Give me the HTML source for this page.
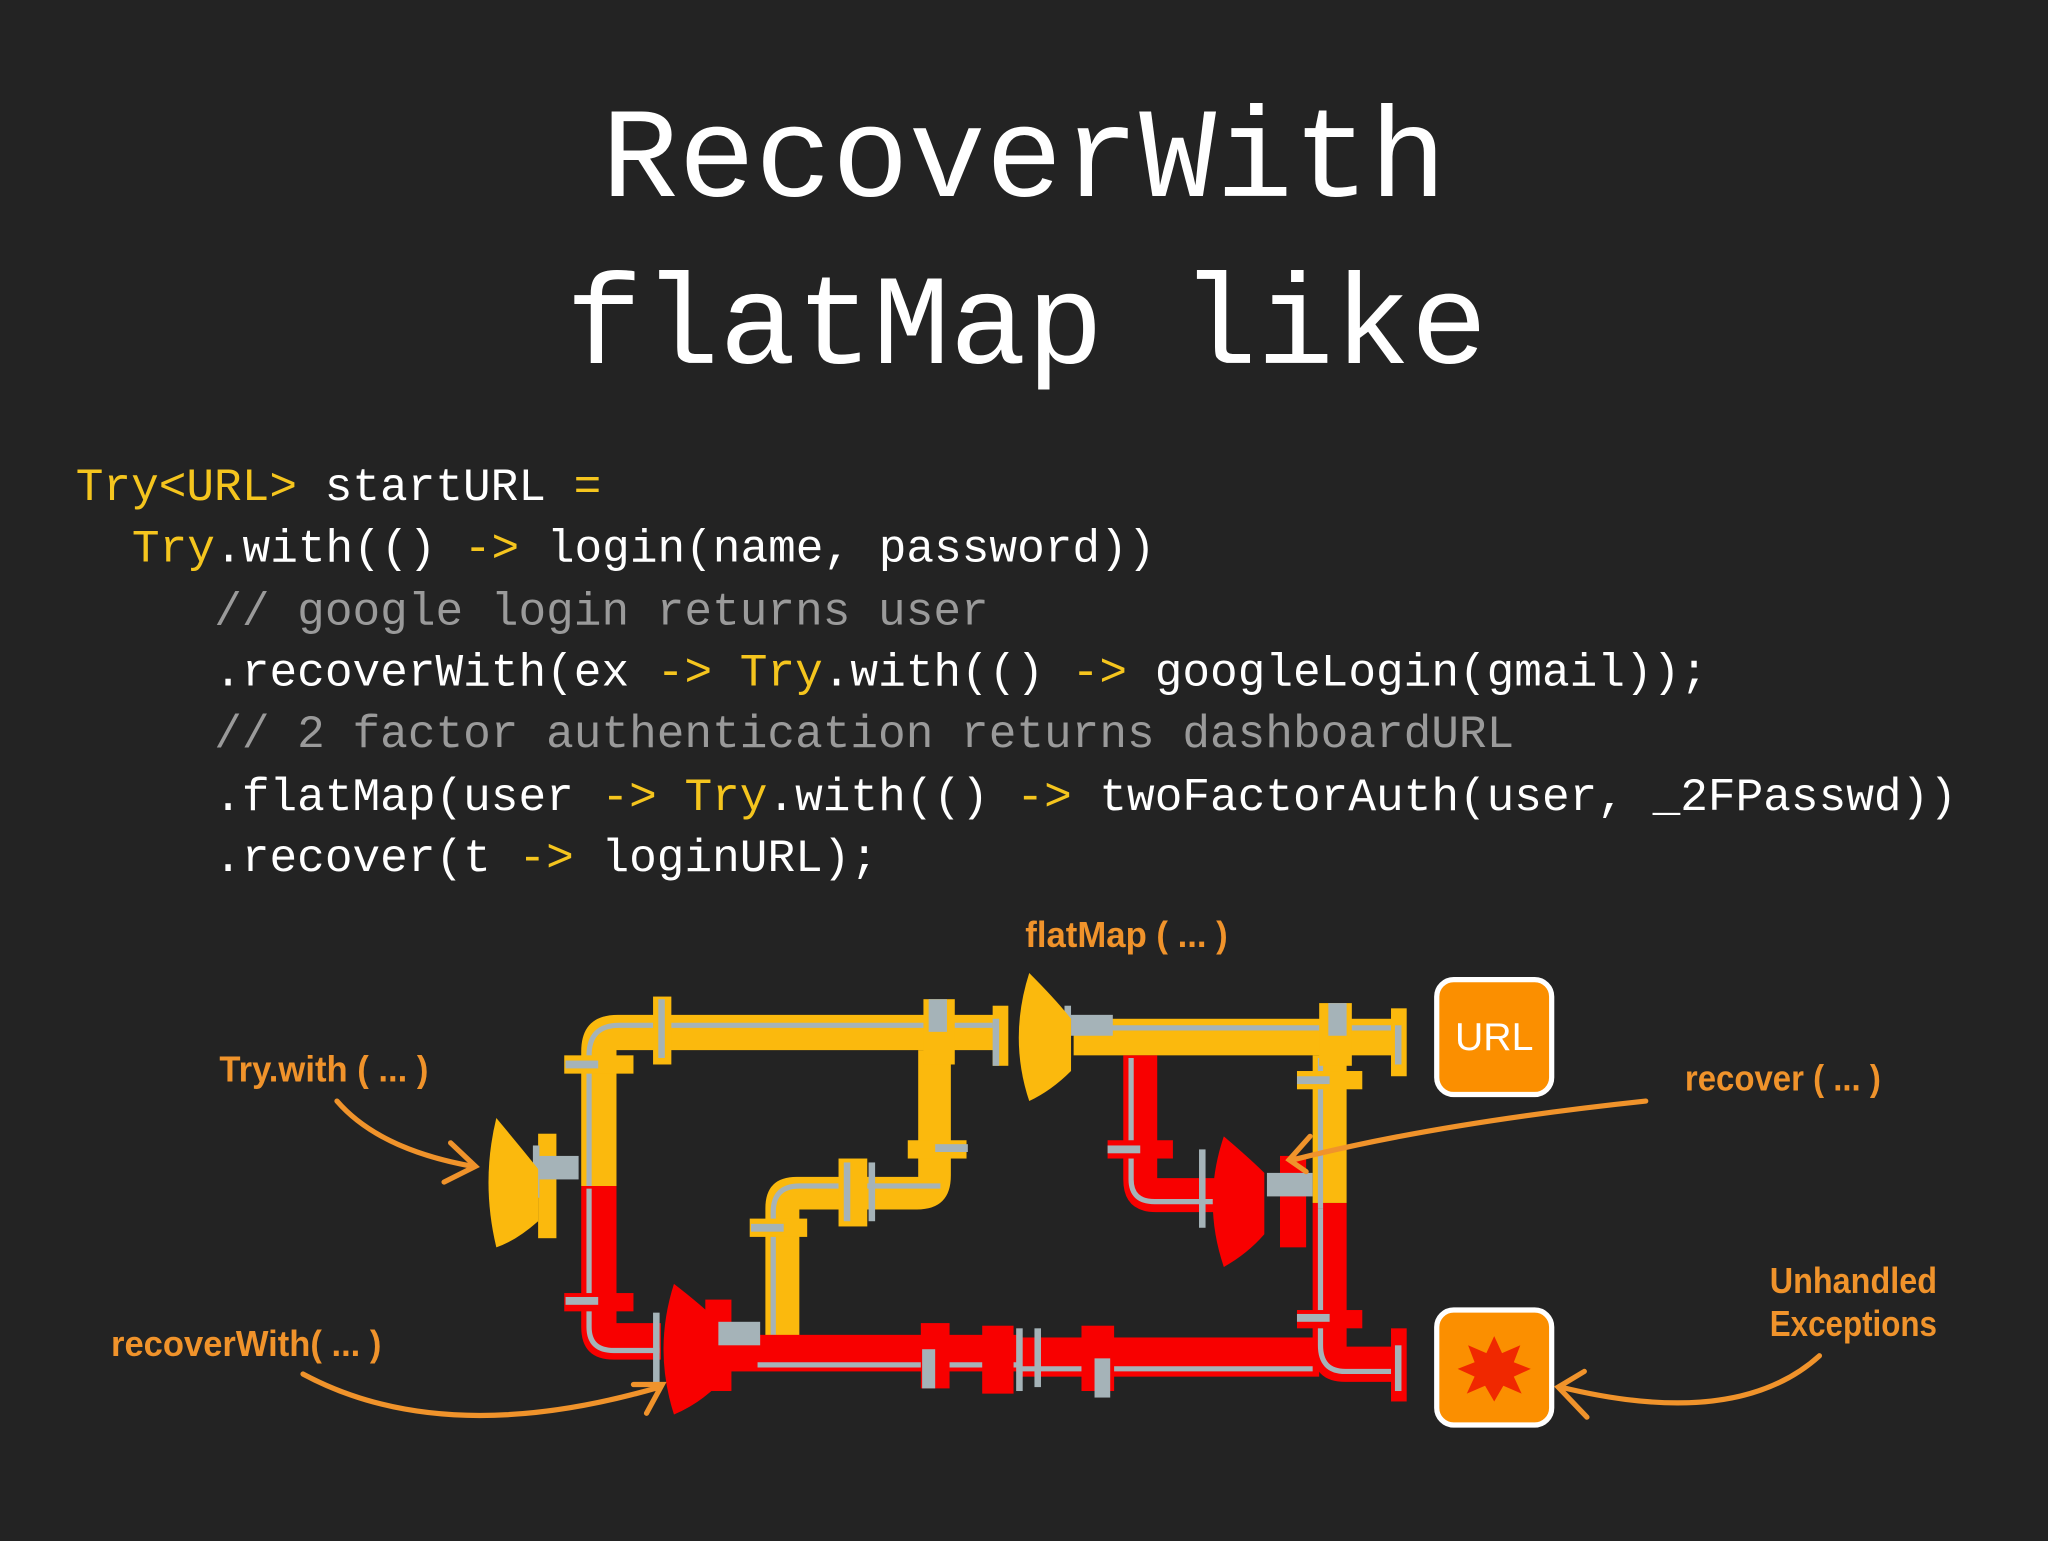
<!DOCTYPE html>
<html><head><meta charset="utf-8"><style>
html,body{margin:0;padding:0;background:#232323;}
body{width:2048px;height:1536px;overflow:hidden;}
</style></head><body>
<svg width="2048" height="1536" viewBox="0 0 1568 1176" xmlns="http://www.w3.org/2000/svg">
<rect width="1568" height="1176" fill="#232323"/>
<g font-family="'Liberation Mono', monospace" fill="#ffffff">
<text x="784" y="150" font-size="98" text-anchor="middle">RecoverWith</text>
<text x="786" y="278" font-size="98" text-anchor="middle">flatMap like</text>
</g>
<g font-family="'Liberation Mono', monospace" font-size="35.3" fill="#ffffff" xml:space="preserve">
<text x="58" y="383"><tspan fill="#f5c51e">Try&lt;URL&gt;</tspan> startURL <tspan fill="#f5c51e">=</tspan></text>
<text x="101" y="430"><tspan fill="#f5c51e">Try</tspan>.with(() <tspan fill="#f5c51e">-&gt;</tspan> login(name, password))</text>
<text x="164" y="478" fill="#9a9a9a">// google login returns user</text>
<text x="164" y="525">.recoverWith(ex <tspan fill="#f5c51e">-&gt;</tspan> <tspan fill="#f5c51e">Try</tspan>.with(() <tspan fill="#f5c51e">-&gt;</tspan> googleLogin(gmail));</text>
<text x="164" y="572" fill="#9a9a9a">// 2 factor authentication returns dashboardURL</text>
<text x="164" y="620">.flatMap(user <tspan fill="#f5c51e">-&gt;</tspan> <tspan fill="#f5c51e">Try</tspan>.with(() <tspan fill="#f5c51e">-&gt;</tspan> twoFactorAuth(user, _2FPasswd))</text>
<text x="164" y="667">.recover(t <tspan fill="#f5c51e">-&gt;</tspan> loginURL);</text>
</g>

<!-- pipes -->
<g>
<!-- yellow left/top -->
<path d="M445 908 V805 Q445 777 473 777 H770 V804 H472 V908 Z" fill="#fbb90d"/>
<path d="M451 908 V808 Q451 785 474 785 H760" stroke="#a5b3b8" stroke-width="4" fill="none"/>
<!-- yellow branch -->
<path d="M703 804 H728 V900 Q728 926 702 926 H612 V1024 H586 V925 Q586 901 610 901 H703 Z" fill="#fbb90d"/>
<path d="M592 1022 V928 Q592 908 612 908 H720" stroke="#a5b3b8" stroke-width="4" fill="none"/>
<!-- red left -->
<path d="M445 908 H472 V1013 H506 V1041 H470 Q445 1041 445 1016 Z" fill="#f80000"/>
<path d="M451 910 V1016 Q451 1034 470 1034 H505" stroke="#a5b3b8" stroke-width="4" fill="none"/>
<!-- red bottom -->
<rect x="550" y="1022" width="230" height="28" fill="#f80000"/>
<rect x="780" y="1024" width="230" height="30" fill="#f80000"/>
<path d="M1005 921 H1031 V1031 H1075 V1058 H1030 Q1005 1058 1005 1033 Z" fill="#f80000"/>
<line x1="580" y1="1045" x2="780" y2="1045" stroke="#a5b3b8" stroke-width="4"/>
<line x1="780" y1="1048" x2="1005" y2="1048" stroke="#a5b3b8" stroke-width="4"/>
<path d="M1011 925 V1030 Q1011 1050 1030 1050 H1070" stroke="#a5b3b8" stroke-width="4" fill="none"/>
<!-- right top yellow -->
<rect x="822" y="780" width="253" height="28" fill="#fbb90d"/>
<line x1="840" y1="787" x2="1075" y2="787" stroke="#a5b3b8" stroke-width="4"/>
<rect x="1005" y="808" width="26" height="113" fill="#fbb90d"/>
<line x1="1011" y1="810" x2="1011" y2="925" stroke="#a5b3b8" stroke-width="4"/>
<!-- red branch -->
<path d="M860 808 H886 V902 H930 V928 H885 Q860 928 860 903 Z" fill="#f80000"/>
<path d="M866 810 V903 Q866 920 884 920 H930" stroke="#a5b3b8" stroke-width="4" fill="none"/>

<!-- flanges -->
<g fill="#fbb90d">
<rect x="500" y="763" width="14" height="52"/>
<rect x="707" y="765" width="24" height="50"/>
<rect x="760" y="770" width="12" height="46"/>
<rect x="1010" y="768" width="25" height="48"/>
<rect x="1065" y="772" width="12" height="52"/>
<rect x="432" y="808" width="53" height="14"/>
<rect x="695" y="873" width="45" height="14"/>
<rect x="993" y="820" width="50" height="14"/>
<rect x="642" y="887" width="22" height="52"/>
<rect x="574" y="933" width="44" height="14"/>
<rect x="412" y="868" width="14" height="80"/>
</g>
<g fill="#f80000">
<rect x="432" y="990" width="53" height="14"/>
<rect x="993" y="1003" width="50" height="14"/>
<rect x="848" y="873" width="50" height="14"/>
<rect x="705" y="1013" width="22" height="50"/>
<rect x="752" y="1015" width="24" height="52"/>
<rect x="828" y="1015" width="25" height="50"/>
<rect x="1065" y="1017" width="12" height="56"/>
<rect x="540" y="995" width="20" height="70"/>
<rect x="980" y="885" width="20" height="70"/>
</g>
<g fill="#a5b3b8">
<rect x="433" y="812" width="25" height="6"/><rect x="504" y="765" width="5" height="45"/>
<rect x="711" y="765" width="14" height="25"/><rect x="760" y="780" width="5" height="36"/>
<rect x="1017" y="768" width="14" height="25"/><rect x="1068" y="785" width="5" height="30"/>
<rect x="993" y="824" width="25" height="6"/><rect x="716" y="876" width="25" height="6"/>
<rect x="575" y="937" width="25" height="6"/><rect x="646" y="890" width="5" height="45"/>
<rect x="665" y="890" width="5" height="45"/><rect x="433" y="993" width="25" height="6"/>
<rect x="993" y="1006" width="25" height="6"/><rect x="848" y="877" width="25" height="6"/>
<rect x="706" y="1033" width="10" height="30"/><rect x="778" y="1017" width="5" height="48"/>
<rect x="792" y="1017" width="5" height="45"/><rect x="838" y="1040" width="12" height="30"/>
<rect x="1068" y="1030" width="5" height="35"/>
<rect x="413" y="885" width="30" height="18"/><rect x="547" y="1012" width="35" height="18"/>
<rect x="820" y="777" width="32" height="16"/><rect x="970" y="898" width="35" height="18"/>
<rect x="500" y="1005" width="5" height="60"/><rect x="918" y="880" width="5" height="60"/>
<rect x="408" y="877" width="5" height="40"/><rect x="815" y="770" width="5" height="40"/>
</g>
<!-- valves -->
<path d="M380 856 Q400 880 412 895 V935 Q395 950 380 955 Q368 905 380 856 Z" fill="#fbb90d"/>
<path d="M788 745 Q808 765 820 780 V820 Q805 835 788 843 Q772 795 788 745 Z" fill="#fbb90d"/>
<path d="M516 983 Q538 1000 550 1012 V1060 Q535 1075 516 1083 Q500 1033 516 983 Z" fill="#f80000"/>
<path d="M937 870 Q958 888 968 898 V945 Q955 960 937 970 Q920 920 937 870 Z" fill="#f80000"/>
</g>

<!-- boxes -->
<rect x="1100" y="750" width="88" height="88" rx="13" fill="#fb8f00" stroke="#ffffff" stroke-width="4"/>
<text x="1144" y="804" font-family="'Liberation Sans', sans-serif" font-size="30" fill="#fff" text-anchor="middle">URL</text>
<rect x="1100" y="1003" width="88" height="88" rx="13" fill="#fb8f00" stroke="#ffffff" stroke-width="4"/>
<polygon points="1144,1023 1150,1036 1164,1030 1159,1043 1172,1048 1159,1054 1165,1067 1151,1061 1144,1073 1137,1061 1123,1067 1129,1054 1116,1048 1129,1043 1124,1030 1138,1036" fill="#f02800"/>

<!-- labels -->
<g font-family="'Liberation Sans Narrow','Liberation Sans', sans-serif" font-weight="bold" fill="#f0932b" font-size="28">
<text x="785" y="725" textLength="155" lengthAdjust="spacingAndGlyphs">flatMap ( ... )</text>
<text x="168" y="828" textLength="160" lengthAdjust="spacingAndGlyphs">Try.with ( ... )</text>
<text x="1290" y="835" textLength="150" lengthAdjust="spacingAndGlyphs">recover ( ... )</text>
<text x="85" y="1038" textLength="207" lengthAdjust="spacingAndGlyphs">recoverWith( ... )</text>
<text x="1355" y="990" textLength="128" lengthAdjust="spacingAndGlyphs">Unhandled</text>
<text x="1355" y="1023" textLength="128" lengthAdjust="spacingAndGlyphs">Exceptions</text>
</g>
<g stroke="#f0932b" stroke-width="4" fill="none" stroke-linecap="round">
<path d="M258 843 Q290 880 362 893"/><path d="M345 875 L364 893 L340 905"/>
<path d="M232 1052 Q340 1110 505 1062"/><path d="M485 1060 L507 1060 L495 1082"/>
<path d="M1260 843 Q1100 860 990 888"/><path d="M1003 870 L987 888 L1000 897"/>
<path d="M1393 1038 Q1330 1095 1195 1062"/><path d="M1213 1050 L1193 1062 L1215 1085"/>
</g>
</svg>
</body></html>
